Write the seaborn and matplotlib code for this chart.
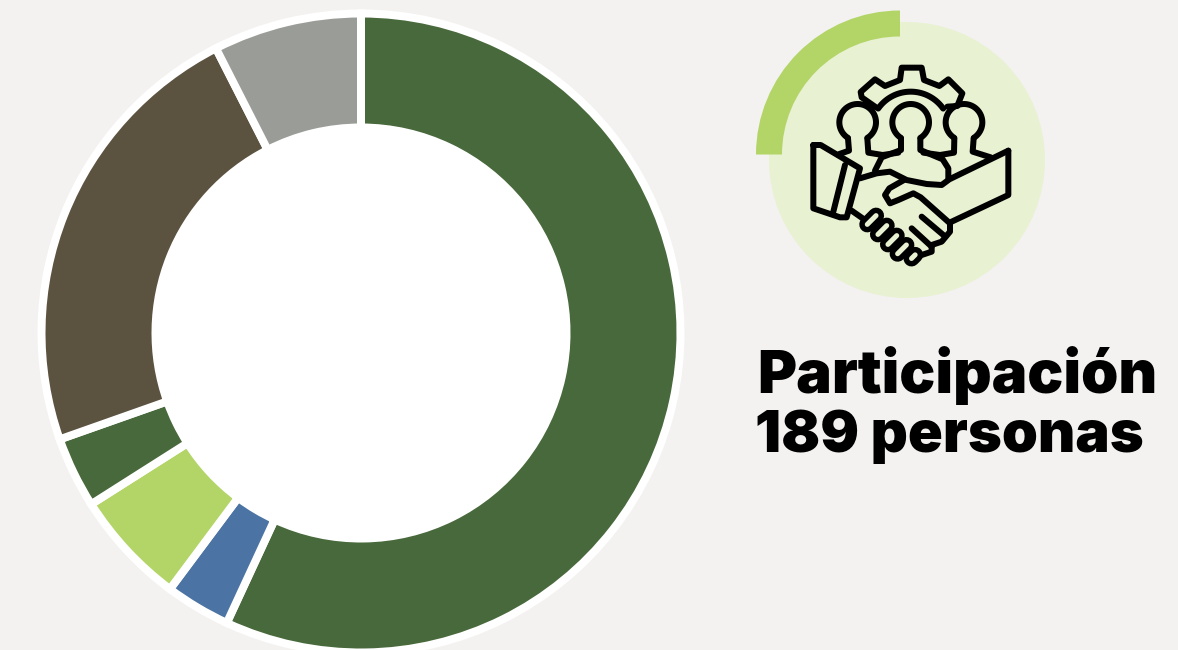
import numpy as np
import matplotlib
matplotlib.use("Agg")
import matplotlib.pyplot as plt
from matplotlib.patches import Circle, Wedge
import seaborn as sns

categories = ["A", "B", "C", "D", "E", "F"]
values = [56.9, 3.3, 5.8, 3.6, 22.9, 7.5]
colors = ["#48693B", "#4B74A4", "#B3D568", "#48693B", "#5B5240", "#999C97"]
line1 = "Participación"
line2 = "189 personas"

BG = "#F3F2F0"
sns.set_theme(style="white", rc={"figure.facecolor": BG, "axes.facecolor": BG})
plt.rcParams["font.family"] = ["Inter", "DejaVu Sans"]

W, H = 1178, 650
fig = plt.figure(figsize=(W / 100, H / 100), dpi=100)
ax = fig.add_axes([0, 0, 1, 1])

ax.pie(values, colors=colors, startangle=90, counterclock=False,
       center=(361, H - 333), radius=319.5,
       wedgeprops=dict(width=114, edgecolor="white", linewidth=8 * 0.72))
ax.add_patch(Circle((361, H - 333), 205.5, fc="white", ec="none", zorder=3))
ax.set_xlim(0, W)
ax.set_ylim(0, H)
ax.set_aspect("equal")
ax.axis("off")
fig.patch.set_facecolor(BG)

# --- decorative badge ---
LIGHT = "#E8F1D1"
ax.add_patch(Circle((907, H - 160), 138, fc=LIGHT, ec="none", zorder=1))
ax.add_patch(Wedge((900, H - 154.5), 144, 90, 180, width=26, fc="#B3D568", ec="none", zorder=2))


def P(x, y):
    return 750 + x / 3, H - y / 3


LW = 6 * 0.72


def line(pts, closed=False, lw=LW, color="black", z=5, cap="round"):
    pts = list(pts)
    if closed:
        pts.append(pts[0])
    xs, ys = zip(*[P(*p) for p in pts])
    ax.plot(xs, ys, color=color, lw=lw, solid_joinstyle="round", solid_capstyle=cap, zorder=z)


def arc(cx, cy, r, a0, a1, z=5):
    t = np.radians(np.linspace(a0, a1, 60))
    line(list(zip(cx + r * np.cos(t), cy - r * np.sin(t))), z=z)


# gear
line([(378, 322), (335, 292), (332, 276), (375, 238), (405, 258), (450, 240), (455, 203),
      (515, 203), (522, 240), (568, 258), (595, 238), (637, 280), (622, 318), (592, 320)])
arc(482, 394, 119, 35, 145)

# heads
arc(482, 367, 55, -58, 238)
line([(453, 415), (453, 450), (395, 472), (375, 512)])
line([(511, 415), (511, 450), (578, 478), (595, 505), (595, 535)])
arc(323, 367, 55, -58, 238)
line([(294, 415), (297, 452), (268, 462)])
line([(352, 415), (355, 458), (398, 465), (445, 458)])
arc(642, 367, 55, -58, 238)
line([(613, 415), (612, 458), (570, 465), (520, 458)])
line([(671, 415), (668, 455), (722, 472)])

# cuff
line([(190, 435), (212, 435), (330, 505), (290, 652), (270, 652), (190, 625)], closed=True)
line([(285, 495), (250, 635)])

# sleeve and hand
line([(775, 452), (598, 538), (575, 555), (530, 552), (470, 540), (420, 515), (380, 520), (330, 535)])
line([(775, 452), (775, 585), (605, 665)])
line([(462, 540), (418, 565), (405, 585), (420, 610), (445, 600), (490, 580), (512, 592),
      (600, 670), (600, 695), (575, 725), (545, 735), (545, 755), (515, 765)])
line([(515, 650), (580, 705)])
line([(485, 685), (545, 740)])
line([(305, 632), (338, 655)])

# knuckles
for c, d in [((365, 660), 24), ((397, 690), 24), ((427, 720), 24), ((456, 748), 24), ((490, 770), 10)]:
    p0 = (c[0] - d * 0.55, c[1] + d * 0.55)
    p1 = (c[0] + d * 0.55, c[1] - d * 0.55)
    line([p0, p1], lw=16 * 0.72, z=5)
    line([p0, p1], lw=5 * 0.72, color=LIGHT, z=6)

# text
ax.text(757, H - 393, line1, fontsize=43, fontweight="black", color="black",
        ha="left", va="baseline", zorder=7)
ax.text(755, H - 452, line2, fontsize=41.5, fontweight="black", color="black",
        ha="left", va="baseline", zorder=7)

fig.savefig("out.png", dpi=100, facecolor=BG)
